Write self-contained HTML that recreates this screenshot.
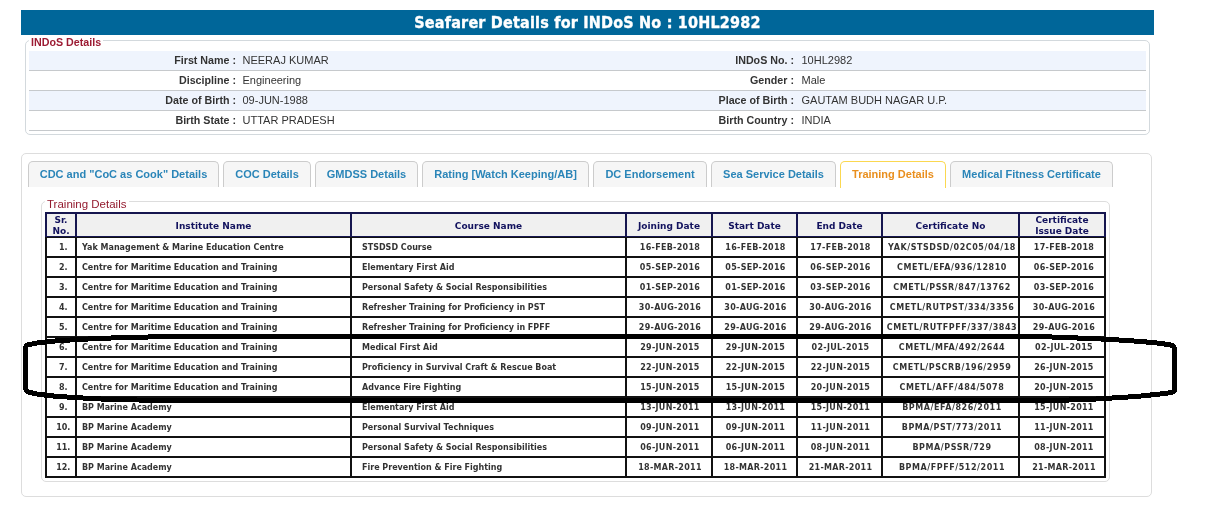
<!DOCTYPE html>
<html lang="en"><head><meta charset="utf-8"><title>Seafarer Details</title>
<style>
html,body{margin:0;padding:0;background:#fff;}
body{width:1227px;height:508px;position:relative;overflow:hidden;font-family:"Liberation Sans",Arial,sans-serif;font-size:11px;color:#333;}
.abs{position:absolute;}
#bar{left:21px;top:10px;width:1133px;height:25px;background:#006699;color:#fff;text-align:center;font-family:"DejaVu Sans Condensed","DejaVu Sans",Verdana,sans-serif;font-weight:bold;font-size:16px;line-height:26px;letter-spacing:0.2px;-webkit-text-stroke:0.35px #fff;}
#fs1{left:25px;top:40px;width:1123px;height:93px;border:1px solid #d3d9dd;border-radius:5px;}
#lg1{left:29px;top:36px;height:12px;width:74px;background:#fff;color:#9c1b33;font-weight:bold;font-size:10.7px;line-height:12px;padding-left:2px;box-sizing:border-box;white-space:nowrap;}
.irow{left:29px;width:1117px;height:19px;border-bottom:1px solid #c6c9cc;}
.irow.alt{background:#eff4fd;}
.irow span{position:absolute;top:0;line-height:19px;white-space:nowrap;font-size:11px;}
.irow .l{font-weight:bold;text-align:right;color:#333;font-size:10.7px;}
.irow .v{color:#333;}
#tabs{left:21px;top:153px;width:1129px;height:342px;border:1px solid #ddd;border-radius:5px;}
.tab{top:161px;height:25px;border:1px solid #ccc;border-bottom:0;border-radius:5px 5px 0 0;background:#f6f6f6;color:#2a85b8;font-weight:bold;font-size:11px;line-height:25px;text-align:center;box-sizing:border-box;height:26px;white-space:nowrap;}
.tab.act{background:#fff;border-color:#fbd850;color:#e98f1e;height:27px;}
#fs2{left:41px;top:201px;width:1067px;height:279px;border:1px solid #ddd;border-radius:5px;}
#lg2{left:45px;top:198px;height:12px;width:84px;background:#fff;color:#931a2e;font-size:11.5px;line-height:12px;padding-left:2px;box-sizing:border-box;white-space:nowrap;}
table{position:absolute;left:45px;top:212px;border-collapse:separate;border-spacing:0;border:0;table-layout:fixed;width:1061px;font-family:"DejaVu Sans",Verdana,sans-serif;font-weight:bold;}
td,th{border:1px solid #111;padding:0;box-sizing:border-box;height:20px;font-size:8px;color:#333;text-align:center;white-space:nowrap;overflow:hidden;line-height:16px;padding-top:2px;}
th{border-color:#16164f;background:#f0f0f0;color:#12125e;font-size:9px;height:25px;line-height:11px;padding-top:0;}
th span{position:relative;top:1px;display:inline-block;}
td.n{text-align:center;padding-left:4.5px;}
tr>*:first-child{border-left-width:2px;}
tr>*:last-child{border-right-width:2px;}
th{border-top-width:2px;}
tr:last-child td{border-bottom-width:2px;height:21px;}
td.i{text-align:left;padding-left:5px;}
td.c{text-align:left;padding-left:10px;}
td.d{letter-spacing:0.3px;padding-left:2px;}
td.d:last-child{padding-left:4px;}
td.k{letter-spacing:0.56px;padding-left:3px;}
svg{position:absolute;left:0;top:0;}
</style></head><body>
<div id="bar" class="abs">Seafarer Details for INDoS No : 10HL2982</div>
<div id="fs1" class="abs"></div><div id="lg1" class="abs">INDoS Details</div>
<div class="abs irow alt" style="top:51px"><span class="l" style="right:910px">First Name :</span><span class="v" style="left:213.5px">NEERAJ KUMAR</span><span class="l" style="right:352px">INDoS No. :</span><span class="v" style="left:772.5px">10HL2982</span></div>
<div class="abs irow" style="top:71px"><span class="l" style="right:910px">Discipline :</span><span class="v" style="left:213.5px">Engineering</span><span class="l" style="right:352px">Gender :</span><span class="v" style="left:772.5px">Male</span></div>
<div class="abs irow alt" style="top:91px"><span class="l" style="right:910px">Date of Birth :</span><span class="v" style="left:213.5px">09-JUN-1988</span><span class="l" style="right:352px">Place of Birth :</span><span class="v" style="left:772.5px">GAUTAM BUDH NAGAR U.P.</span></div>
<div class="abs irow" style="top:111px"><span class="l" style="right:910px">Birth State :</span><span class="v" style="left:213.5px">UTTAR PRADESH</span><span class="l" style="right:352px">Birth Country :</span><span class="v" style="left:772.5px">INDIA</span></div>
<div id="tabs" class="abs"></div>
<div class="abs tab" style="left:28px;width:191px">CDC and &quot;CoC as Cook&quot; Details</div>
<div class="abs tab" style="left:223px;width:88px">COC Details</div>
<div class="abs tab" style="left:315px;width:103px">GMDSS Details</div>
<div class="abs tab" style="left:422px;width:167px">Rating [Watch Keeping/AB]</div>
<div class="abs tab" style="left:593px;width:114px">DC Endorsement</div>
<div class="abs tab" style="left:711px;width:125px">Sea Service Details</div>
<div class="abs tab act" style="left:840px;width:106px">Training Details</div>
<div class="abs tab" style="left:950px;width:163px">Medical Fitness Certificate</div>
<div id="fs2" class="abs"></div><div id="lg2" class="abs">Training Details</div>
<table><colgroup><col style="width:31px"><col style="width:275px"><col style="width:275px"><col style="width:86px"><col style="width:85px"><col style="width:85px"><col style="width:137px"><col style="width:87px"></colgroup>
<tr><th><span>Sr.<br>No.</span></th><th><span>Institute Name</span></th><th><span>Course Name</span></th><th><span>Joining Date</span></th><th><span>Start Date</span></th><th><span>End Date</span></th><th><span>Certificate No</span></th><th><span>Certificate<br>Issue Date</span></th></tr>
<tr><td class="n">1.</td><td class="i">Yak Management &amp; Marine Education Centre</td><td class="c">STSDSD Course</td><td class="d">16-FEB-2018</td><td class="d">16-FEB-2018</td><td class="d">17-FEB-2018</td><td class="k">YAK/STSDSD/02C05/04/18</td><td class="d">17-FEB-2018</td></tr>
<tr><td class="n">2.</td><td class="i">Centre for Maritime Education and Training</td><td class="c">Elementary First Aid</td><td class="d">05-SEP-2016</td><td class="d">05-SEP-2016</td><td class="d">06-SEP-2016</td><td class="k">CMETL/EFA/936/12810</td><td class="d">06-SEP-2016</td></tr>
<tr><td class="n">3.</td><td class="i">Centre for Maritime Education and Training</td><td class="c">Personal Safety &amp; Social Responsibilities</td><td class="d">01-SEP-2016</td><td class="d">01-SEP-2016</td><td class="d">03-SEP-2016</td><td class="k">CMETL/PSSR/847/13762</td><td class="d">03-SEP-2016</td></tr>
<tr><td class="n">4.</td><td class="i">Centre for Maritime Education and Training</td><td class="c">Refresher Training for Proficiency in PST</td><td class="d">30-AUG-2016</td><td class="d">30-AUG-2016</td><td class="d">30-AUG-2016</td><td class="k">CMETL/RUTPST/334/3356</td><td class="d">30-AUG-2016</td></tr>
<tr><td class="n">5.</td><td class="i">Centre for Maritime Education and Training</td><td class="c">Refresher Training for Proficiency in FPFF</td><td class="d">29-AUG-2016</td><td class="d">29-AUG-2016</td><td class="d">29-AUG-2016</td><td class="k">CMETL/RUTFPFF/337/3843</td><td class="d">29-AUG-2016</td></tr>
<tr><td class="n">6.</td><td class="i">Centre for Maritime Education and Training</td><td class="c">Medical First Aid</td><td class="d">29-JUN-2015</td><td class="d">29-JUN-2015</td><td class="d">02-JUL-2015</td><td class="k">CMETL/MFA/492/2644</td><td class="d">02-JUL-2015</td></tr>
<tr><td class="n">7.</td><td class="i">Centre for Maritime Education and Training</td><td class="c">Proficiency in Survival Craft &amp; Rescue Boat</td><td class="d">22-JUN-2015</td><td class="d">22-JUN-2015</td><td class="d">22-JUN-2015</td><td class="k">CMETL/PSCRB/196/2959</td><td class="d">26-JUN-2015</td></tr>
<tr><td class="n">8.</td><td class="i">Centre for Maritime Education and Training</td><td class="c">Advance Fire Fighting</td><td class="d">15-JUN-2015</td><td class="d">15-JUN-2015</td><td class="d">20-JUN-2015</td><td class="k">CMETL/AFF/484/5078</td><td class="d">20-JUN-2015</td></tr>
<tr><td class="n">9.</td><td class="i">BP Marine Academy</td><td class="c">Elementary First Aid</td><td class="d">13-JUN-2011</td><td class="d">13-JUN-2011</td><td class="d">15-JUN-2011</td><td class="k">BPMA/EFA/826/2011</td><td class="d">15-JUN-2011</td></tr>
<tr><td class="n">10.</td><td class="i">BP Marine Academy</td><td class="c">Personal Survival Techniques</td><td class="d">09-JUN-2011</td><td class="d">09-JUN-2011</td><td class="d">11-JUN-2011</td><td class="k">BPMA/PST/773/2011</td><td class="d">11-JUN-2011</td></tr>
<tr><td class="n">11.</td><td class="i">BP Marine Academy</td><td class="c">Personal Safety &amp; Social Responsibilities</td><td class="d">06-JUN-2011</td><td class="d">06-JUN-2011</td><td class="d">08-JUN-2011</td><td class="k">BPMA/PSSR/729</td><td class="d">08-JUN-2011</td></tr>
<tr><td class="n">12.</td><td class="i">BP Marine Academy</td><td class="c">Fire Prevention &amp; Fire Fighting</td><td class="d">18-MAR-2011</td><td class="d">18-MAR-2011</td><td class="d">21-MAR-2011</td><td class="k">BPMA/FPFF/512/2011</td><td class="d">21-MAR-2011</td></tr>
</table>
<svg width="1227" height="508" viewBox="0 0 1227 508" fill="none" stroke="#000" stroke-width="5" stroke-linejoin="round" stroke-linecap="round" shape-rendering="crispEdges">
<path d="M25.5 388 L25.5 348 L26 346 L28.5 344.7 L34.7 343.4 L39.6 342.6 L48 341.75 L59 340.6 L70 340 L91.7 338.8 L116 337.8 L156 336.8 L188 336.5 L1039 336.5 L1060 337.3 L1085 338.3 L1107.7 339.3 L1125.4 340.4 L1141 341.5 L1159 343.2 L1168.7 344.6 L1172.5 345.6 L1174.5 348 L1174.5 390 L1173 392 L1168.7 392.9 L1159 394.1 L1141 396 L1125.4 397.2 L1107.7 398.3 L1090 399.4 L1075 399.7 L1059 400.5 L188 400.5 L137 400 L104.4 399.2 L82.8 398 L74 397.5 L66.7 397 L54.4 396.1 L44.5 395 L37.1 394 L29.8 392.4 L26.5 391 L25.5 388 Z"/>
</svg>
</body></html>
